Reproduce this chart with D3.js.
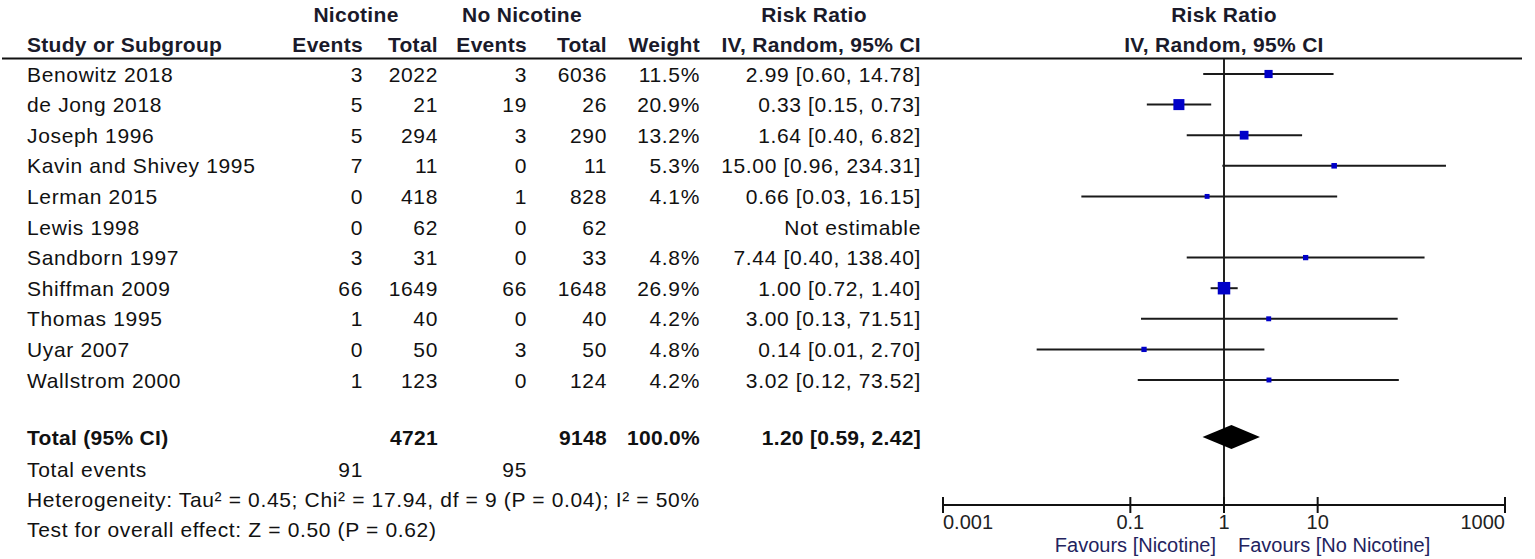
<!DOCTYPE html>
<html>
<head>
<meta charset="utf-8">
<script src="https://cdn.jsdelivr.net/npm/d3@7/dist/d3.min.js"></script>
<style>
  html, body { margin: 0; padding: 0; background: #fff; }
  svg { display: block; }
  text { font-family: "Liberation Sans", Arial, sans-serif; fill: #111; }
  .hdr { font-weight: bold; font-size: 21px; fill: #1a1a2a; letter-spacing: 0.3px; }
  .body { font-size: 21px; letter-spacing: 0.65px; }
  .bold { font-weight: bold; letter-spacing: 0.3px; }
  .tick { font-size: 20px; fill: #222; }
  .fav { font-size: 20px; fill: #23235e; }
</style>
</head>
<body>
<svg id="chart" width="1535" height="559"></svg>
<script>
// ---------------- data ----------------
const studies = ["Benowitz 2018", "de Jong 2018", "Joseph 1996", "Kavin and Shivey 1995",
  "Lerman 2015", "Lewis 1998", "Sandborn 1997", "Shiffman 2009", "Thomas 1995",
  "Uyar 2007", "Wallstrom 2000"];
const nicEvents = [3, 5, 5, 7, 0, 0, 3, 66, 1, 0, 1];
const nicTotal  = [2022, 21, 294, 11, 418, 62, 31, 1649, 40, 50, 123];
const noEvents  = [3, 19, 3, 0, 1, 0, 0, 66, 0, 3, 0];
const noTotal   = [6036, 26, 290, 11, 828, 62, 33, 1648, 40, 50, 124];
const weights   = [11.5, 20.9, 13.2, 5.3, 4.1, null, 4.8, 26.9, 4.2, 4.8, 4.2];
const rr        = [2.99, 0.33, 1.64, 15.00, 0.66, null, 7.44, 1.00, 3.00, 0.14, 3.02];
const rrLow     = [0.60, 0.15, 0.40, 0.96, 0.03, null, 0.40, 0.72, 0.13, 0.01, 0.12];
const rrHigh    = [14.78, 0.73, 6.82, 234.31, 16.15, null, 138.40, 1.40, 71.51, 2.70, 73.52];
const totalNic = 4721, totalNo = 9148, totalWeight = 100.0;
const totalRR = [1.20, 0.59, 2.42];   // estimate, low, high
const totalEvNic = 91, totalEvNo = 95;
const axisTicks = [0.001, 0.1, 1, 10, 1000];
const tickLabels = ["0.001", "0.1", "1", "10", "1000"];
const favLeft = "Favours [Nicotine]", favRight = "Favours [No Nicotine]";
const heterogeneity = "Heterogeneity: Tau² = 0.45; Chi² = 17.94, df = 9 (P = 0.04); I² = 50%";
const overall = "Test for overall effect: Z = 0.50 (P = 0.62)";

// ---------------- layout ----------------
const svg = d3.select("#chart");
const x = d3.scaleLog().domain([0.001, 1000]).range([943, 1505]);
const y = d3.scaleLinear().domain([0, studies.length - 1]).range([74, 380]);
const yTotal = 437, yEvents = 469, yHet = 499, yTest = 529;
const yAxis = 505;
const size = d3.scaleSqrt().domain([0, 26.9]).range([0, 12.5]);

const col = { study: 27, nicEv: 363, nicTot: 438, noEv: 527, noTot: 607, weight: 700, ci: 921 };

function txt(xp, yp, s, cls, anchor) {
  return svg.append("text").attr("x", xp).attr("y", yp).attr("dy", "0.36em")
    .attr("class", cls).attr("text-anchor", anchor || "start").text(s);
}
const ciStr = (e, l, h) => `${e.toFixed(2)} [${l.toFixed(2)}, ${h.toFixed(2)}]`;

// headers
txt(356, 14, "Nicotine", "hdr", "middle");
txt(522, 14, "No Nicotine", "hdr", "middle");
txt(814, 14, "Risk Ratio", "hdr", "middle");
txt(x(1), 14, "Risk Ratio", "hdr", "middle");
txt(col.study, 44, "Study or Subgroup", "hdr");
txt(col.nicEv, 44, "Events", "hdr", "end");
txt(col.nicTot, 44, "Total", "hdr", "end");
txt(col.noEv, 44, "Events", "hdr", "end");
txt(col.noTot, 44, "Total", "hdr", "end");
txt(col.weight, 44, "Weight", "hdr", "end");
txt(col.ci, 44, "IV, Random, 95% CI", "hdr", "end");
txt(x(1), 44, "IV, Random, 95% CI", "hdr", "middle");

svg.append("line").attr("x1", 2).attr("x2", 1522).attr("y1", 58.5).attr("y2", 58.5)
  .attr("stroke", "#111").attr("stroke-width", 2.2);

// study rows
studies.forEach((s, i) => {
  const yy = y(i);
  txt(col.study, yy, s, "body");
  txt(col.nicEv, yy, nicEvents[i], "body", "end");
  txt(col.nicTot, yy, nicTotal[i], "body", "end");
  txt(col.noEv, yy, noEvents[i], "body", "end");
  txt(col.noTot, yy, noTotal[i], "body", "end");
  if (weights[i] != null) txt(col.weight, yy, weights[i].toFixed(1) + "%", "body", "end");
  txt(col.ci, yy, rr[i] != null ? ciStr(rr[i], rrLow[i], rrHigh[i]) : "Not estimable", "body", "end");
});

// total rows
txt(col.study, yTotal, "Total (95% CI)", "body bold");
txt(col.nicTot, yTotal, totalNic, "body bold", "end");
txt(col.noTot, yTotal, totalNo, "body bold", "end");
txt(col.weight, yTotal, totalWeight.toFixed(1) + "%", "body bold", "end");
txt(col.ci, yTotal, ciStr(totalRR[0], totalRR[1], totalRR[2]), "body bold", "end");
txt(col.study, yEvents, "Total events", "body");
txt(col.nicEv, yEvents, totalEvNic, "body", "end");
txt(col.noEv, yEvents, totalEvNo, "body", "end");
txt(col.study, yHet, heterogeneity, "body");
txt(col.study, yTest, overall, "body");

// forest plot: null line
svg.append("line").attr("x1", x(1)).attr("x2", x(1)).attr("y1", 59).attr("y2", yAxis)
  .attr("stroke", "#222").attr("stroke-width", 2);

// CI lines and squares
const idx = d3.range(studies.length).filter(i => rr[i] != null);
svg.append("g").selectAll("line").data(idx).join("line")
  .attr("x1", i => x(Math.max(rrLow[i], 0.001)))
  .attr("x2", i => x(Math.min(rrHigh[i], 1000)))
  .attr("y1", i => y(i)).attr("y2", i => y(i))
  .attr("stroke", "#1a1a1a").attr("stroke-width", 2);
svg.append("g").selectAll("rect").data(idx).join("rect")
  .attr("x", i => x(rr[i]) - size(weights[i]) / 2)
  .attr("y", i => y(i) - size(weights[i]) / 2)
  .attr("width", i => size(weights[i]))
  .attr("height", i => size(weights[i]))
  .attr("fill", "#0000c8");

// diamond
const dh = 12;
svg.append("path")
  .attr("d", `M${x(totalRR[1])},${yTotal} L${x(totalRR[0])},${yTotal - dh} L${x(totalRR[2])},${yTotal} L${x(totalRR[0])},${yTotal + dh} Z`)
  .attr("fill", "#000");

// axis
svg.append("line").attr("x1", x(0.001)).attr("x2", x(1000)).attr("y1", yAxis).attr("y2", yAxis)
  .attr("stroke", "#111").attr("stroke-width", 2);
svg.append("g").selectAll("line").data(axisTicks).join("line")
  .attr("x1", d => x(d)).attr("x2", d => x(d)).attr("y1", yAxis - 8).attr("y2", yAxis + 8)
  .attr("stroke", "#111").attr("stroke-width", 2);
axisTicks.forEach((t, i) => {
  const anchor = i === 0 ? "start" : (i === axisTicks.length - 1 ? "end" : "middle");
  txt(x(t), 522, tickLabels[i], "tick", anchor);
});
txt(x(1) - 8, 545, favLeft, "fav", "end");
txt(x(1) + 14, 545, favRight, "fav", "start");
</script>
</body>
</html>
